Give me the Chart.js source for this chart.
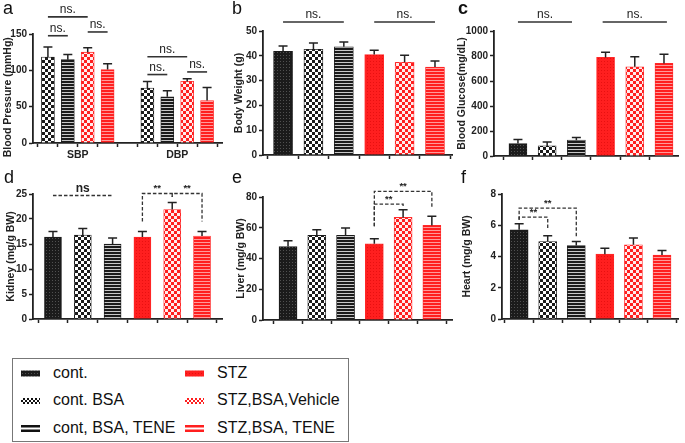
<!DOCTYPE html>
<html>
<head>
<meta charset="utf-8">
<script src="https://cdn.jsdelivr.net/npm/chart.js@4.4.1/dist/chart.umd.min.js"></script>
<style>
  body { margin: 0; background: #fff; width: 685px; height: 443px; position: relative; overflow: hidden; font-family: "Liberation Sans", Arial, sans-serif; }
  canvas.panel { position: absolute; }
  .plbl { position: absolute; font-size: 18px; color: #111; line-height: 1; }
  #legend { position: absolute; left: 12px; top: 358px; width: 337px; height: 84px; border: 1.5px solid #777; box-sizing: border-box; }
  .sw { position: absolute; }
  .lt { position: absolute; font-size: 16px; color: #111; line-height: 1; }
</style>
</head>
<body>
<canvas class="panel" id="ca" width="228" height="165" style="left:0;top:0"></canvas>
<canvas class="panel" id="cb" width="228" height="165" style="left:228px;top:0"></canvas>
<canvas class="panel" id="cc" width="229" height="165" style="left:456px;top:0"></canvas>
<canvas class="panel" id="cd" width="228" height="170" style="left:0;top:165px"></canvas>
<canvas class="panel" id="ce" width="228" height="170" style="left:228px;top:165px"></canvas>
<canvas class="panel" id="cf" width="229" height="170" style="left:456px;top:165px"></canvas>

<div class="plbl" style="left:3px;top:-1px">a</div>
<div class="plbl" style="left:232px;top:-1px">b</div>
<div class="plbl" style="left:458px;top:-1px;font-weight:bold">c</div>
<div class="plbl" style="left:4px;top:168px">d</div>
<div class="plbl" style="left:232px;top:168px">e</div>
<div class="plbl" style="left:461px;top:168px">f</div>

<div id="legend"></div>

<script>
// groups, in legend order
const groupNames = ['cont.', 'cont. BSA', 'cont, BSA, TENE', 'STZ', 'STZ,BSA,Vehicle', 'STZ,BSA, TENE'];
const kinds6 = ['dense', 'checker', 'stripes', 'denseR', 'checkerR', 'stripesR'];

// a - blood pressure (only the BSA groups)
const bpGroups = ['SBP', 'DBP'];
const bpGroupAt = [1.5, 6.5];
const bpPos = [0, 1, 2, 3, 5, 6, 7, 8];
const bpKinds = ['checker', 'stripes', 'checkerR', 'stripesR', 'checker', 'stripes', 'checkerR', 'stripesR'];
const bpMean = [118.4, 114.7, 125, 101, 75.6, 63.6, 84.8, 58.5];
const bpSd = [13.6, 7, 6, 8, 9.2, 8.3, 3.7, 18];

// b - body weight
const bwMean = [41.8, 42.6, 43.6, 40.5, 37.4, 35.5];
const bwSd = [2.2, 2.6, 2.0, 1.7, 2.8, 2.4];

// c - blood glucose
const bgMean = [100, 81, 127, 789, 714, 741];
const bgSd = [32, 32, 22, 41, 81, 73];

// d - kidney
const kidMean = [16.4, 16.8, 15.0, 16.4, 21.9, 16.6];
const kidSd = [1.1, 1.3, 1.2, 1.1, 1.4, 0.9];

// e - liver
const livMean = [47.8, 55, 55, 49.6, 66.7, 61.5];
const livSd = [3.7, 3.7, 4.8, 3.2, 5, 5.9];

// f - heart
const hrtMean = [5.71, 4.96, 4.7, 4.15, 4.75, 4.09];
const hrtSd = [0.39, 0.37, 0.26, 0.38, 0.43, 0.3];

// significance marks: from/to = bar positions, y = bracket height, legs = where the legs end
const sigA = [
  { from: 0, to: 2, y: 173.5, text: 'ns.' },
  { from: 0, to: 1, y: 147.6, text: 'ns.' },
  { from: 2, to: 3, y: 152.8, text: 'ns.' },
  { from: 5, to: 7, y: 118.6, text: 'ns.' },
  { from: 5, to: 6, y: 94.2, text: 'ns.' },
  { from: 7, to: 8, y: 97.8, text: 'ns.' }
];
const sigB = [
  { from: 0, to: 2, y: 53.6, text: 'ns.' },
  { from: 3, to: 5, y: 53.6, text: 'ns.' }
];
const sigC = [
  { from: 0, to: 1.85, y: 1072, text: 'ns.' },
  { from: 2.9, to: 5.1, y: 1072, text: 'ns.' }
];
const sigD = [
  { from: 0, to: 2, y: 24.7, text: 'ns', bold: true },
  { from: 3, to: 4, y: 25.1, legA: 19.5, legB: 24.4, text: '**' },
  { from: 4, to: 5, y: 25.1, legA: 24.4, legB: 19.5, text: '**' }
];
const sigE = [
  { from: 3, to: 5, y: 83.7, legA: 60.9, legB: 73.3, text: '**' },
  { from: 3, to: 4, y: 75.4, legA: 60.9, legB: 73, text: '**' }
];
const sigF = [
  { from: 0, to: 2, y: 7.1, legA: 6.35, legB: 5.22, text: '**' },
  { from: 0, to: 1, y: 6.52, legA: 6.35, legB: 5.71, text: '**' }
];

const FONT = '"Liberation Sans", Arial, sans-serif';
const INK = '#222';

// fill patterns for the bars
function makePattern(kind) {
  const c = document.createElement('canvas');
  const red = kind.endsWith('R');
  const base = red ? '#ff1f1f' : '#1b1b1b';
  let g;
  if (kind.startsWith('dense')) {
    c.width = c.height = 3;
    g = c.getContext('2d');
    g.fillStyle = base; g.fillRect(0, 0, 3, 3);
    g.fillStyle = red ? '#e81010' : '#505050';
    g.fillRect(1, 1, 1, 1);
  } else if (kind.startsWith('checker')) {
    c.width = c.height = 6;
    g = c.getContext('2d');
    g.fillStyle = red ? '#ffecec' : '#ffffff'; g.fillRect(0, 0, 6, 6);
    g.fillStyle = base;
    g.fillRect(0, 0, 3, 3); g.fillRect(3, 3, 3, 3);
  } else {
    c.width = 4; c.height = 3;
    g = c.getContext('2d');
    g.fillStyle = base; g.fillRect(0, 0, 4, 3);
    g.fillStyle = red ? '#ff9a9a' : '#c8c8c8';
    g.fillRect(0, 2, 4, 1);
  }
  return g.createPattern(c, 'repeat');
}
const P = {};
['dense', 'checker', 'stripes', 'denseR', 'checkerR', 'stripesR'].forEach(k => P[k] = makePattern(k));

// upper error bars (T caps)
const errBars = {
  id: 'errBars',
  afterDatasetsDraw(chart) {
    const ds = chart.data.datasets[0];
    const meta = chart.getDatasetMeta(0);
    const y = chart.scales.y;
    const ctx = chart.ctx;
    ctx.save();
    ctx.strokeStyle = INK;
    ctx.lineWidth = 1.5;
    meta.data.forEach((bar, i) => {
      const top = y.getPixelForValue(ds.data[i].y + ds.sd[i]);
      ctx.beginPath();
      ctx.moveTo(bar.x, bar.y);
      ctx.lineTo(bar.x, top);
      ctx.moveTo(bar.x - 4.5, top);
      ctx.lineTo(bar.x + 4.5, top);
      ctx.stroke();
    });
    ctx.restore();
  }
};

// significance brackets
const sigMarks = {
  id: 'sigMarks',
  afterDraw(chart, args, opts) {
    if (!opts.items) return;
    const { ctx, scales: { x, y } } = chart;
    ctx.save();
    ctx.strokeStyle = '#333';
    ctx.fillStyle = '#222';
    ctx.lineWidth = opts.dashed ? 1.3 : 1.6;
    ctx.setLineDash(opts.dashed ? [3.5, 2] : []);
    opts.items.forEach(s => {
      const x1 = x.getPixelForValue(s.from), x2 = x.getPixelForValue(s.to);
      const yy = y.getPixelForValue(s.y);
      ctx.beginPath();
      if (s.legA !== undefined) {
        ctx.moveTo(x1, y.getPixelForValue(s.legA));
        ctx.lineTo(x1, yy);
      } else {
        ctx.moveTo(x1, yy);
      }
      ctx.lineTo(x2, yy);
      if (s.legB !== undefined) ctx.lineTo(x2, y.getPixelForValue(s.legB));
      ctx.stroke();
      const star = s.text === '**';
      ctx.font = (s.bold || star ? 'bold ' : '') + (star ? 9.5 : 12) + 'px ' + FONT;
      ctx.textAlign = 'center';
      ctx.textBaseline = 'bottom';
      ctx.fillText(s.text, (x1 + x2) / 2, yy - (star ? 0 : 1));
    });
    ctx.restore();
  }
};

// group names under panel a
const groupLabels = {
  id: 'groupLabels',
  afterDraw(chart, args, opts) {
    if (!opts.labels) return;
    const ctx = chart.ctx;
    ctx.save();
    ctx.font = 'bold 10.5px ' + FONT;
    ctx.fillStyle = INK;
    ctx.textAlign = 'center';
    ctx.textBaseline = 'middle';
    opts.labels.forEach((t, i) => ctx.fillText(t, chart.scales.x.getPixelForValue(opts.at[i]), opts.y));
    ctx.restore();
  }
};

Chart.register(errBars, sigMarks, groupLabels);

function makeChart(id, cfg) {
  const kinds = cfg.kinds || kinds6;
  const pos = cfg.pos || kinds.map((k, i) => i);
  const n = cfg.nTicks || pos.length;
  const tickPos = Array.from({ length: n }, (v, i) => i);
  return new Chart(document.getElementById(id), {
    type: 'bar',
    data: {
      datasets: [{
        data: pos.map((p, i) => ({ x: p, y: cfg.mean[i] })),
        sd: cfg.sd,
        backgroundColor: kinds.map(k => P[k]),
        borderColor: kinds.map(k => k.endsWith('R') ? '#ff2a2a' : '#1b1b1b'),
        borderWidth: 0.8,
        borderSkipped: 'bottom',
        barThickness: cfg.barW
      }]
    },
    options: {
      responsive: false,
      animation: false,
      layout: { padding: { top: cfg.padTop, right: cfg.padRight, left: 0, bottom: 0 } },
      plugins: {
        legend: { display: false },
        tooltip: { enabled: false },
        sigMarks: { items: cfg.sig, dashed: !!cfg.dashed },
        groupLabels: cfg.groups || {}
      },
      scales: {
        x: {
          type: 'linear',
          min: cfg.xMin,
          max: n - 1 + cfg.xMaxPad,
          offset: false,
          afterBuildTicks: s => { s.ticks = tickPos.map(v => ({ value: v })); },
          ticks: { callback: () => '', autoSkip: false, padding: 0 },
          grid: { drawOnChartArea: false, drawTicks: true, tickLength: 4, tickColor: INK, tickWidth: 1.5 },
          border: { color: INK, width: 1.8 },
          afterFit: s => { s.height = cfg.xH; }
        },
        y: {
          min: 0,
          max: cfg.yMax,
          ticks: {
            stepSize: cfg.step, color: INK, padding: 2,
            font: { family: FONT, size: 10, weight: 'bold' },
            callback: v => String(v)
          },
          grid: { drawOnChartArea: false, drawTicks: true, tickLength: 4, tickColor: INK, tickWidth: 1.5 },
          border: { color: INK, width: 1.8 },
          title: {
            display: true, text: cfg.title, color: INK,
            font: { family: FONT, size: 10.5, weight: 'bold' },
            padding: { top: cfg.titlePad, bottom: 0 }
          },
          afterFit: s => { s.width = cfg.yW; }
        }
      }
    }
  });
}

// trailing spaces push the rotated title of panel a a little lower, as in the source
makeChart('ca', {
  kinds: bpKinds, pos: bpPos, nTicks: 9, mean: bpMean, sd: bpSd, barW: 13,
  yMax: 150, step: 50, title: 'Blood Pressure (mmHg)      ', sig: sigA,
  yW: 33, xH: 22, padTop: 34, padRight: 6, xMin: -0.75, xMaxPad: 0.75, titlePad: 2,
  groups: { labels: bpGroups, at: bpGroupAt, y: 155 }
});
makeChart('cb', {
  mean: bwMean, sd: bwSd, barW: 19, yMax: 50, step: 10, title: 'Body Weight (g)', sig: sigB,
  yW: 35, xH: 10, padTop: 31, padRight: 4, xMin: -0.66, xMaxPad: 0.56, titlePad: 5
});
makeChart('cc', {
  mean: bgMean, sd: bgSd, barW: 18, yMax: 1000, step: 200, title: 'Blood Glucose(mg/dL)', sig: sigC,
  yW: 38, xH: 9, padTop: 31, padRight: 7, xMin: -0.82, xMaxPad: 0.48, titlePad: 0
});
makeChart('cd', {
  mean: kidMean, sd: kidSd, barW: 17, yMax: 25, step: 5, title: 'Kidney (mg/g BW)', sig: sigD, dashed: true,
  yW: 33, xH: 16, padTop: 29, padRight: 6, xMin: -0.67, xMaxPad: 0.67, titlePad: 5
});
makeChart('ce', {
  mean: livMean, sd: livSd, barW: 18, yMax: 80, step: 20, title: 'Liver (mg/g BW)', sig: sigE, dashed: true,
  yW: 35, xH: 15, padTop: 32, padRight: 4, xMin: -0.87, xMaxPad: 0.7, titlePad: 7
});
makeChart('cf', {
  mean: hrtMean, sd: hrtSd, barW: 18, yMax: 8, step: 2, title: 'Heart (mg/g BW)', sig: sigF, dashed: true,
  yW: 46, xH: 16, padTop: 29, padRight: 7, xMin: -0.6, xMaxPad: 0.56, titlePad: 5
});

// legend box
const legend = document.getElementById('legend');
const legendCols = [8, 172];
const legendRows = [14, 41, 69];
groupNames.forEach((name, i) => {
  const col = i < 3 ? 0 : 1, row = i % 3;
  const k = kinds6[i];
  const sw = document.createElement('canvas');
  sw.width = 19; sw.height = 9;
  sw.className = 'sw';
  sw.style.left = legendCols[col] + 'px';
  sw.style.top = (legendRows[row] - 4.5) + 'px';
  const g = sw.getContext('2d');
  const base = k.endsWith('R') ? '#ff1f1f' : '#111';
  if (k.startsWith('stripes')) {
    g.fillStyle = base;
    g.fillRect(0, 1, 19, 2.5);
    g.fillRect(0, 5.5, 19, 2.5);
  } else if (k.startsWith('checker')) {
    g.fillStyle = base;
    for (let cx = 0; cx < 19; cx += 2) for (let cy = 2; cy < 7; cy += 2)
      if (((cx + cy) / 2) % 2 === 0) g.fillRect(cx, cy, 2, 2);
  } else {
    g.fillStyle = P[k];
    g.fillRect(0, 1.5, 19, 6);
  }
  legend.appendChild(sw);
  const t = document.createElement('div');
  t.className = 'lt';
  t.textContent = name;
  t.style.left = (legendCols[col] + 32) + 'px';
  t.style.top = (legendRows[row] - 8.5) + 'px';
  legend.appendChild(t);
});
</script>
</body>
</html>
